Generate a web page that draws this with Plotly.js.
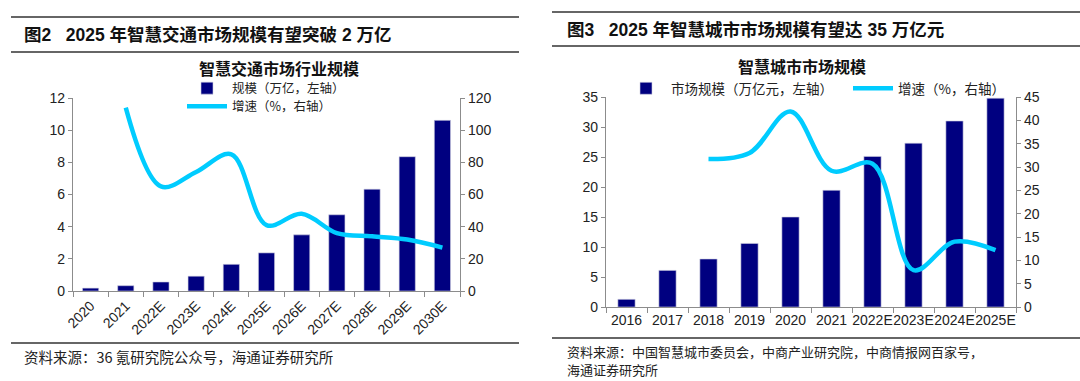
<!DOCTYPE html>
<html><head><meta charset="utf-8">
<script src="https://cdn.plot.ly/plotly-3.0.1.min.js"></script>
<style>html,body{margin:0;padding:0;background:#fff;}#chart{width:1080px;height:381px;}</style>
</head><body><div id="chart"></div>
<script>
// Left chart: 智慧交通市场行业规模
const trafficYears = ['2020','2021','2022E','2023E','2024E','2025E','2026E','2027E','2028E','2029E','2030E'];
const trafficScale = [0.18, 0.33, 0.56, 0.92, 1.66, 2.37, 3.49, 4.74, 6.33, 8.35, 10.61];
const trafficGrowth = [null, 114, 65, 74, 85, 41, 48, 36, 34, 32, 27];
// Right chart: 智慧城市市场规模
const cityYears = ['2016','2017','2018','2019','2020','2021','2022E','2023E','2024E','2025E'];
const cityScale = [1.28, 6.1, 8.0, 10.6, 15.0, 19.45, 25.1, 27.3, 31.0, 34.8];
const cityGrowth = [null, null, 31.7, 33, 41.9, 29.2, 30.7, 7.9, 14.0, 12.2];

const W = 1080, H = 381;
const px = x => x / W, py = y => 1 - y / H;
const NAVY = '#000080', CYAN = '#00CCFF', AX = '#8c8c8c';
const CJK = '"Noto Sans CJK SC", "Liberation Sans", sans-serif';
const NUM = '"Liberation Sans", Arial, sans-serif';
const TITLE = '"Liberation Sans", "Noto Sans CJK SC", sans-serif';

const traces = [
  {type:'bar', x:trafficYears, y:trafficScale, name:'规模（万亿，左轴）', xaxis:'x', yaxis:'y',
   marker:{color:NAVY, line:{color:'#d0d0e0', width:0.6}}, width:0.46, legend:'legend'},
  {type:'scatter', mode:'lines', x:trafficYears, y:trafficGrowth, name:'增速（%，右轴）', xaxis:'x', yaxis:'y2',
   line:{color:CYAN, width:4.5, shape:'spline', smoothing:1}, legend:'legend3'},
  {type:'bar', x:cityYears, y:cityScale, name:'市场规模（万亿元，左轴）', xaxis:'x3', yaxis:'y3',
   marker:{color:NAVY, line:{color:'#d0d0e0', width:0.6}}, width:0.42, legend:'legend2'},
  {type:'scatter', mode:'lines', x:cityYears, y:cityGrowth, name:'增速（%，右轴）', xaxis:'x3', yaxis:'y4',
   line:{color:CYAN, width:4.5, shape:'spline', smoothing:1}, legend:'legend4'}
];

const tickFont = {family:NUM, size:14, color:'#222'};
const baseAx = {showgrid:false, zeroline:false, showline:true, linecolor:AX, linewidth:1.2,
  ticks:'outside', ticklen:5, tickcolor:AX, tickfont:tickFont, fixedrange:true};
const leg = (x, y, s) => ({x:px(x), y:py(y), xanchor:'left', yanchor:'middle', orientation:'v',
  bgcolor:'rgba(0,0,0,0)', font:{family:CJK, size:s, color:'#222'}, itemwidth:40});

const layout = {
  width:W, height:H, margin:{l:0,r:0,t:0,b:0}, paper_bgcolor:'#fff', plot_bgcolor:'rgba(0,0,0,0)',
  showlegend:true,
  xaxis: Object.assign({}, baseAx, {domain:[px(73), px(460)], anchor:'y', type:'category',
    range:[-0.5,10.5], tickson:'boundaries', tickangle:-45, ticklen:5}),
  yaxis: Object.assign({}, baseAx, {domain:[py(291), py(98)], anchor:'x', range:[0,12], dtick:2, ticklen:4}),
  yaxis2: Object.assign({}, baseAx, {overlaying:'y', side:'right', anchor:'x', range:[0,120], dtick:20, ticklen:4}),
  xaxis3: Object.assign({}, baseAx, {domain:[px(606), px(1016)], anchor:'y3', type:'category',
    range:[-0.5,9.5], tickson:'boundaries', tickangle:0, ticklen:5}),
  yaxis3: Object.assign({}, baseAx, {domain:[py(307), py(97)], anchor:'x3', range:[0,35], dtick:5, ticklen:4}),
  yaxis4: Object.assign({}, baseAx, {overlaying:'y3', side:'right', anchor:'x3', range:[0,45], dtick:5, ticklen:4}),
  legend: leg(182, 88.5, 12.5),
  legend3: leg(182, 106.5, 12.5),
  legend2: leg(621, 88.5, 13.5),
  legend4: leg(848, 88.5, 13.5),
  shapes: [
    {type:'line', xref:'paper', yref:'paper', x0:px(11), x1:px(519), y0:py(17), y1:py(17), line:{color:'#333', width:1.3}},
    {type:'line', xref:'paper', yref:'paper', x0:px(11), x1:px(519), y0:py(52), y1:py(52), line:{color:'#333', width:1.3}},
    {type:'line', xref:'paper', yref:'paper', x0:px(11), x1:px(519), y0:py(343), y1:py(343), line:{color:'#333', width:1.3}},
    {type:'line', xref:'paper', yref:'paper', x0:px(552), x1:px(1080), y0:py(12), y1:py(12), line:{color:'#333', width:1.3}},
    {type:'line', xref:'paper', yref:'paper', x0:px(552), x1:px(1080), y0:py(46), y1:py(46), line:{color:'#333', width:1.3}},
    {type:'line', xref:'paper', yref:'paper', x0:px(552), x1:px(1080), y0:py(338), y1:py(338), line:{color:'#333', width:1.3}}
  ],
  annotations: [
    {xref:'paper', yref:'paper', x:px(22), y:py(35), xanchor:'left', yanchor:'middle', showarrow:false,
     text:'<b>图2&nbsp;&nbsp;&nbsp;2025 年智慧交通市场规模有望突破 2 万亿</b>', font:{family:TITLE, size:17.5, color:'#111'}},
    {xref:'paper', yref:'paper', x:px(279), y:py(68), xanchor:'center', yanchor:'middle', showarrow:false,
     text:'<b>智慧交通市场行业规模</b>', font:{family:CJK, size:16, color:'#111'}},
    {xref:'paper', yref:'paper', x:px(22), y:py(356), xanchor:'left', yanchor:'middle', showarrow:false,
     text:'资料来源：36 氪研究院公众号，海通证券研究所', font:{family:CJK, size:14.5, color:'#222'}},
    {xref:'paper', yref:'paper', x:px(565), y:py(30), xanchor:'left', yanchor:'middle', showarrow:false,
     text:'<b>图3&nbsp;&nbsp;&nbsp;2025 年智慧城市市场规模有望达 35 万亿元</b>', font:{family:TITLE, size:17.5, color:'#111'}},
    {xref:'paper', yref:'paper', x:px(802), y:py(66), xanchor:'center', yanchor:'middle', showarrow:false,
     text:'<b>智慧城市市场规模</b>', font:{family:CJK, size:16, color:'#111'}},
    {xref:'paper', yref:'paper', x:px(565), y:py(351), xanchor:'left', yanchor:'middle', showarrow:false,
     text:'资料来源：中国智慧城市委员会，中商产业研究院，中商情报网百家号，', font:{family:CJK, size:13, color:'#222'}},
    {xref:'paper', yref:'paper', x:px(565), y:py(369), xanchor:'left', yanchor:'middle', showarrow:false,
     text:'海通证券研究所', font:{family:CJK, size:13, color:'#222'}}
  ]
};

Plotly.newPlot('chart', traces, layout, {staticPlot:true, displayModeBar:false});
</script></body></html>
